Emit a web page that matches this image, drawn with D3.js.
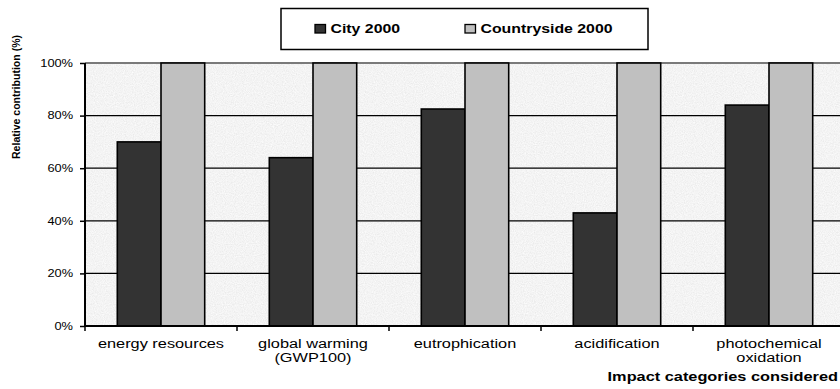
<!DOCTYPE html>
<html>
<head>
<meta charset="utf-8">
<script src="https://cdn.jsdelivr.net/npm/d3@7"></script>
<style>
  html, body { margin: 0; padding: 0; background: #fff; }
  svg { display: block; font-family: "Liberation Sans", Arial, sans-serif; }
</style>
</head>
<body>
<svg id="chart" width="840" height="389"></svg>
<script>
// Impact categories (second line of a label after "|")
const categories = ["energy resources", "global warming|(GWP100)", "eutrophication", "acidification", "photochemical|oxidation"];
const seriesNames = ["City 2000", "Countryside 2000"];
const cityValues = [0.70, 0.64, 0.825, 0.43, 0.84];
const countrysideValues = [1.00, 1.00, 1.00, 1.00, 1.00];
const yTicks = [0, 0.2, 0.4, 0.6, 0.8, 1.0];

const seriesValues = [cityValues, countrysideValues];
const seriesFill = ["#333333", "#c0c0c0"];

const svg = d3.select("#chart");
const plot = { left: 85, right: 845, top: 63, bottom: 326 };
const hStretch = 1.36; // horizontal widening of the rendered type

// Widen a text element horizontally, keeping its anchor
function widen(sel, k) {
  sel.each(function () {
    const len = this.getComputedTextLength();
    d3.select(this).attr("textLength", len * k).attr("lengthAdjust", "spacingAndGlyphs");
  });
}

// Granite-like background texture
const defs = svg.append("defs");
const f = defs.append("filter").attr("id", "granite").attr("x", 0).attr("y", 0).attr("width", 1).attr("height", 1);
f.append("feTurbulence").attr("type", "fractalNoise").attr("baseFrequency", 0.9).attr("numOctaves", 2).attr("seed", 3).attr("result", "noise");
f.append("feColorMatrix").attr("in", "noise").attr("type", "matrix")
  .attr("values", "0 0 0 0.24 0.79  0 0 0 0.24 0.79  0 0 0 0.24 0.79  0 0 0 0 1");

const x = d3.scaleBand().domain(categories).range([plot.left, plot.right]).paddingInner(0).paddingOuter(0);
const xInner = d3.scaleBand().domain(seriesNames).range([0, x.bandwidth()]).paddingInner(0).paddingOuter(0.739);
const y = d3.scaleLinear().domain([0, 1]).range([plot.bottom, plot.top]);

// Plot area background
svg.append("rect")
  .attr("x", plot.left).attr("y", plot.top)
  .attr("width", plot.right - plot.left).attr("height", plot.bottom - plot.top)
  .attr("fill", "#ececec");
svg.append("rect")
  .attr("x", plot.left).attr("y", plot.top)
  .attr("width", plot.right - plot.left).attr("height", plot.bottom - plot.top)
  .attr("filter", "url(#granite)").attr("opacity", 0.9);

// Gridlines
svg.append("g").selectAll("line")
  .data(yTicks.filter(d => d > 0 && d < 1))
  .join("line")
  .attr("x1", plot.left).attr("x2", plot.right)
  .attr("y1", d => y(d)).attr("y2", d => y(d))
  .attr("stroke", "#000").attr("stroke-width", 1.2);
svg.append("line")
  .attr("x1", plot.left).attr("x2", plot.right)
  .attr("y1", y(1)).attr("y2", y(1))
  .attr("stroke", "#7a7a7a").attr("stroke-width", 2);

// Bars
const groups = svg.append("g").selectAll("g")
  .data(categories)
  .join("g")
  .attr("transform", d => `translate(${x(d)},0)`);
groups.selectAll("rect")
  .data((c, i) => seriesNames.map((s, j) => ({ s, v: seriesValues[j][i], j })))
  .join("rect")
  .attr("x", d => xInner(d.s))
  .attr("y", d => y(d.v))
  .attr("width", xInner.bandwidth())
  .attr("height", d => y(0) - y(d.v))
  .attr("fill", d => seriesFill[d.j])
  .attr("stroke", "#000").attr("stroke-width", 1.6);

// Y axis
const yAxis = svg.append("g")
  .attr("transform", `translate(${plot.left},0)`)
  .call(d3.axisLeft(y).tickValues(yTicks).tickFormat(d3.format(".0%")).tickSize(5).tickPadding(7));
yAxis.select(".domain").attr("stroke", "#000").attr("stroke-width", 2).attr("d", `M0,${plot.top}V${plot.bottom}`);
yAxis.selectAll(".tick line").attr("stroke", "#000").attr("stroke-width", 1.5);
yAxis.selectAll(".tick text")
  .attr("font-family", "'Liberation Sans', Arial, sans-serif")
  .attr("font-size", 10).attr("fill", "#000")
  .call(widen, 1.28);

// X axis (ticks at category boundaries)
const bounds = categories.map(c => x(c)).concat([plot.right]);
svg.append("line")
  .attr("x1", plot.left).attr("x2", plot.right)
  .attr("y1", plot.bottom).attr("y2", plot.bottom)
  .attr("stroke", "#000").attr("stroke-width", 2);
svg.append("g").selectAll("line")
  .data(bounds)
  .join("line")
  .attr("x1", d => d).attr("x2", d => d)
  .attr("y1", plot.bottom).attr("y2", plot.bottom + 5)
  .attr("stroke", "#000").attr("stroke-width", 1.5);

// Category labels
const labels = svg.append("g");
categories.forEach(c => {
  c.split("|").forEach((line, k) => {
    labels.append("text")
      .attr("x", x(c) + x.bandwidth() / 2)
      .attr("y", 347.5 + k * 14.3)
      .attr("text-anchor", "middle")
      .attr("font-size", 12).attr("fill", "#000")
      .text(line)
      .call(widen, hStretch);
  });
});

// Axis titles
svg.append("text")
  .attr("x", 838).attr("y", 381)
  .attr("text-anchor", "end")
  .attr("font-size", 12).attr("font-weight", "bold")
  .text("Impact categories considered")
  .call(widen, hStretch);

svg.append("text")
  .attr("transform", "translate(20,97) rotate(-90)")
  .attr("text-anchor", "middle")
  .attr("font-size", 11).attr("font-weight", "bold")
  .attr("textLength", 124).attr("lengthAdjust", "spacingAndGlyphs")
  .text("Relative contribution (%)");

// Legend
const legend = svg.append("g");
legend.append("rect")
  .attr("x", 281).attr("y", 8.5).attr("width", 367).attr("height", 41)
  .attr("fill", "#fff").attr("stroke", "#000").attr("stroke-width", 1.5);
const legendX = [315, 465];
seriesNames.forEach((s, j) => {
  legend.append("rect")
    .attr("x", legendX[j]).attr("y", 24.5).attr("width", 10.5).attr("height", 8.5)
    .attr("fill", seriesFill[j]).attr("stroke", "#000").attr("stroke-width", 1.3);
  legend.append("text")
    .attr("x", legendX[j] + 15.5).attr("y", 33)
    .attr("font-size", 12).attr("font-weight", "bold")
    .text(s)
    .call(widen, 1.32);
});
</script>
</body>
</html>
